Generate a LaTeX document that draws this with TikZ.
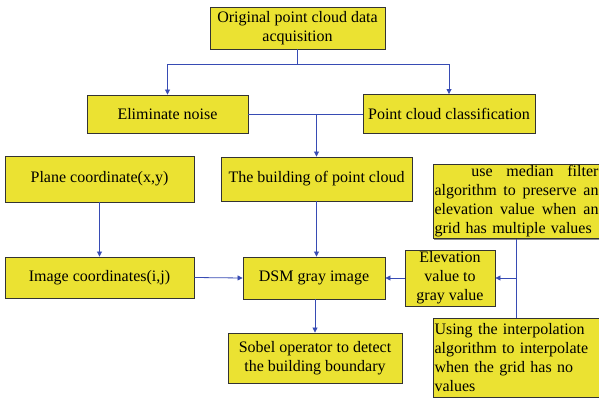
\documentclass[tikz,border=0pt]{standalone}
\usepackage{fontspec}
\setmainfont{Liberation Serif}
\usepackage{tikz}
\usetikzlibrary{arrows.meta,shadows}
\definecolor{boxyellow}{RGB}{235,226,50}
\definecolor{linkblue}{RGB}{55,75,180}
\newcommand{\jline}[1]{\makebox[164pt]{#1}}

\begin{document}
\begin{tikzpicture}[x=1pt, y=-1pt,
    every node/.style={font=\fontsize{16}{19}\selectfont},
    box/.style={draw=black!80, fill=boxyellow, line width=0.9pt, inner sep=2pt, align=center,
        drop shadow={shadow xshift=1pt, shadow yshift=-1pt, fill=black!45, opacity=1}},
    link/.style={draw=linkblue, line width=0.8pt},
    arr/.style={link, -{Triangle[length=5pt,width=5pt]}}]

\useasboundingbox (0,0) rectangle (599,398);
\clip (0,0) rectangle (599,398);

% Boxes
\node[box, minimum width=175pt, minimum height=42pt] (orig) at (297.5,28) {Original point cloud data\\acquisition};
\node[box, minimum width=161pt, minimum height=38pt] (noise) at (167.5,114) {Eliminate noise};
\node[box, minimum width=172pt, minimum height=39pt] (classif) at (449,114) {Point cloud classification};
\node[box, minimum width=189pt, minimum height=46pt] (plane) at (99.5,179) {Plane coordinate(x,y)};
\node[box, minimum width=191pt, minimum height=44pt] (building) at (316.5,179) {The building of point cloud};
\node[box, minimum width=189pt, minimum height=41pt] (image) at (99.5,277.5) {Image coordinates(i,j)};
\node[box, minimum width=142pt, minimum height=42pt] (dsm) at (314,278) {DSM gray image};
\node[box, minimum width=90pt, minimum height=56pt, inner sep=1pt] (elev) at (450,278) {Elevation\\value to\\gray value};
\node[box, minimum width=174pt, minimum height=50pt] (sobel) at (315,358) {Sobel operator to detect\\the building boundary};

% Side boxes (cut by the right edge)
\node[box, text width=168pt, minimum height=71pt, inner sep=1.5pt, align=left] (median) at (518.5,201.5)
    {\jline{\hspace*{2.3em}use\hfill median\hfill filter}\\
     \jline{algorithm\hfill to\hfill preserve\hfill an}\\
     \jline{elevation\hfill value\hfill when\hfill an}\\
     grid has multiple values};
\node[box, text width=168pt, minimum height=79pt, inner sep=1.5pt, align=left] (interp) at (518.5,357.5)
    {Using the interpolation\\algorithm to interpolate\\when the grid has no\\values};

% Connectors
\coordinate (split) at (297.5,64);
\draw[link] (orig.south) -- (split);
\draw[arr] (split) -| (noise.north);
\draw[arr] (split) -| (classif.north);
\draw[link] (noise.east) -- (classif.west);
\draw[arr] (noise.east -| building.north) -- (building.north);
\draw[arr] (plane.south) -- (image.north);
\draw[arr] (image.east) -- (dsm.west);
\draw[arr] (building.south) -- (building.south |- dsm.north);
\draw[arr] (elev.west) -- (dsm.east);
\coordinate (tap) at (516,278);
\draw[link] (median.south -| tap) -- (interp.north -| tap);
\draw[arr] (tap) -- (elev.east);
\draw[arr] (dsm.south -| sobel.north) -- (sobel.north);

\end{tikzpicture}
\end{document}
